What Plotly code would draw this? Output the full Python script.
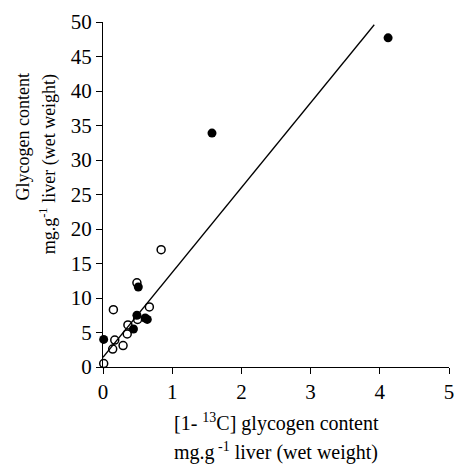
import plotly.graph_objects as go

# Filled circles
filled_x = [0.01, 0.44, 0.49, 0.51, 0.61, 0.64, 1.575, 4.12]
filled_y = [4.0, 5.5, 7.5, 11.6, 7.1, 6.9, 33.9, 47.7]
# Open circles
open_x = [0.01, 0.14, 0.17, 0.29, 0.35, 0.36, 0.50, 0.15, 0.67, 0.49, 0.84]
open_y = [0.5, 2.6, 3.9, 3.1, 4.8, 6.1, 6.9, 8.3, 8.7, 12.2, 17.0]
# Regression line
line_x = [0.0, 3.92]
line_y = [1.4, 49.6]

x_ticks = [0, 1, 2, 3, 4, 5]
y_ticks = [0, 5, 10, 15, 20, 25, 30, 35, 40, 45, 50]

fig = go.Figure()
fig.add_trace(go.Scatter(x=line_x, y=line_y, mode="lines",
                         line=dict(color="black", width=1.3), showlegend=False))
fig.add_trace(go.Scatter(x=open_x, y=open_y, mode="markers", cliponaxis=False,
                         marker=dict(symbol="circle-open", size=8, color="black",
                                     line=dict(width=1.5, color="black")),
                         showlegend=False))
fig.add_trace(go.Scatter(x=filled_x, y=filled_y, mode="markers", cliponaxis=False,
                         marker=dict(symbol="circle", size=9, color="black"),
                         showlegend=False))

font = "Liberation Serif, Times New Roman, serif"
axis_common = dict(ticks="outside", ticklen=6, tickwidth=1, tickcolor="black",
                   showline=True, linecolor="black", linewidth=1, showgrid=False,
                   zeroline=False, automargin=False, ticklabeloverflow="allow",
                   tickfont=dict(size=21, family=font))
fig.update_layout(
    width=454, height=464,
    margin=dict(l=103, r=5, t=22, b=97),
    plot_bgcolor="white", paper_bgcolor="white",
    font=dict(family=font, color="black", size=17),
    xaxis=dict(range=[0, 5], tickvals=x_ticks, **axis_common),
    yaxis=dict(range=[0, 50], tickvals=y_ticks, **axis_common),
)

# x-axis title lines
fig.add_annotation(text="[1- <sup>13</sup>C] glycogen content", xref="paper", yref="paper",
                   x=0.5, y=-0.16, xanchor="center", yanchor="middle", showarrow=False,
                   font=dict(size=20, family=font))
fig.add_annotation(text="mg.g<sup> -1</sup> liver (wet weight)", xref="paper", yref="paper",
                   x=0.5, y=-0.245, xanchor="center", yanchor="middle", showarrow=False,
                   font=dict(size=20, family=font))
# y-axis title lines (right-aligned at top)
fig.add_annotation(text="Glycogen content", xref="paper", yref="paper",
                   x=-0.234, y=0.855, xanchor="center", yanchor="top", showarrow=False,
                   textangle=-90, font=dict(size=18, family=font))
fig.add_annotation(text="mg.g<sup>-1</sup> liver (wet weight)", xref="paper", yref="paper",
                   x=-0.158, y=0.855, xanchor="center", yanchor="top", showarrow=False,
                   textangle=-90, font=dict(size=18, family=font))

fig.write_html("out.html", config={"displayModeBar": False},
               post_script="document.body.style.margin='0';document.body.style.overflow='hidden';")
